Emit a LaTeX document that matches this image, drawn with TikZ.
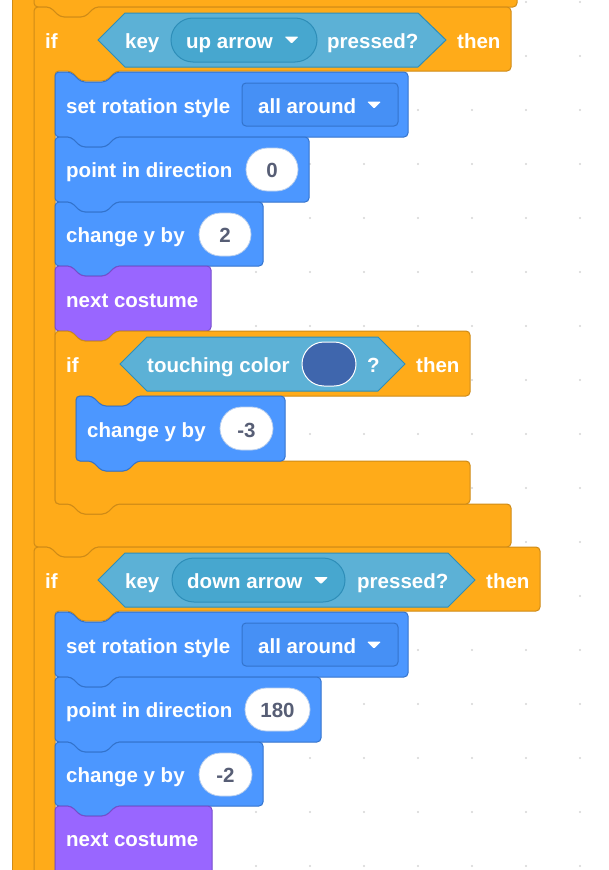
\documentclass[tikz,border=0pt]{standalone}
\usepackage{fontspec}
\setmainfont{Liberation Sans}
\definecolor{ctrl}{HTML}{FFAB19}
\definecolor{ctrlB}{HTML}{CF8B17}
\definecolor{mot}{HTML}{4C97FF}
\definecolor{motB}{HTML}{3373CC}
\definecolor{motD}{HTML}{4690F5}
\definecolor{look}{HTML}{9966FF}
\definecolor{lookB}{HTML}{774DCB}
\definecolor{sens}{HTML}{5CB1D6}
\definecolor{sensB}{HTML}{2E8EB8}
\definecolor{sensD}{HTML}{47A7CF}
\definecolor{numc}{HTML}{575E75}
\definecolor{swc}{HTML}{3F66AD}
\definecolor{dotc}{HTML}{D6D6D6}
% stack block: style, x1, y1, x2, y2
\newcommand\stk[5]{\path[#1] ({#2},{#3+20}) -- ({#2},{#3}) -- ({#2+16},{#3}) -- ({#2+26},{#3+10}) -- ({#2+51},{#3+10}) -- ({#2+61},{#3}) -- ({#4},{#3}) -- ({#4},{#5}) -- ({#2+61},{#5}) -- ({#2+51},{#5+10}) -- ({#2+26},{#5+10}) -- ({#2+16},{#5}) -- ({#2},{#5}) -- cycle;}
% c block: style, x1, y1, x2, yh, yb, x3, ye
\newcommand\cblk[8]{\path[#1] ({#2},{#3+20}) -- ({#2},{#3}) -- ({#2+16},{#3}) -- ({#2+26},{#3+10}) -- ({#2+51},{#3+10}) -- ({#2+61},{#3}) -- ({#4},{#3}) -- ({#4},{#5}) -- ({#2+82},{#5}) -- ({#2+72},{#5+10}) -- ({#2+47},{#5+10}) -- ({#2+37},{#5}) -- ({#2+21},{#5}) -- ({#2+21},{#6}) -- ({#2+37},{#6}) -- ({#2+47},{#6+10}) -- ({#2+72},{#6+10}) -- ({#2+82},{#6}) -- ({#7},{#6}) -- ({#7},{#8}) -- ({#2+61},{#8}) -- ({#2+51},{#8+10}) -- ({#2+26},{#8+10}) -- ({#2+16},{#8}) -- ({#2},{#8}) -- cycle;}
% dropdown triangle: x, y
\newcommand\ddtri[2]{\fill[white,rounded corners=1pt] ({#1-7},{#2-3.5}) -- ({#1+7},{#2-3.5}) -- ({#1},{#2+3.5}) -- cycle;}
\begin{document}
\begin{tikzpicture}[x=1pt,y=-1pt,
  ctrlS/.style={fill=ctrl,draw=ctrlB,line width=1pt,rounded corners=4pt},
  motS/.style={fill=mot,draw=motB,line width=1pt,rounded corners=4pt},
  lookS/.style={fill=look,draw=lookB,line width=1pt,rounded corners=4pt},
  sensS/.style={fill=sens,draw=sensB,line width=1pt},
  lbl/.style={text=white,font=\fontsize{20.5}{24}\selectfont\bfseries,inner sep=0pt,anchor=base west},
  num/.style={text=numc,font=\fontsize{20.5}{24}\selectfont\bfseries,inner sep=0pt,anchor=base},
  oval/.style={fill=white,draw=motB!35,line width=0.8pt},
  pillS/.style={fill=sensD,draw=sensB,line width=1pt,rounded corners=22pt},
  ddS/.style={fill=motD,draw=motB,line width=1pt,rounded corners=4pt}]
\useasboundingbox (0,0) rectangle (608,870);
\clip (0,0) rectangle (608,870);
\fill[white] (0,0) rectangle (608,870);
% grid dots
\foreach \i in {40,94,...,580} \foreach \j in {2,56,...,866} \fill[dotc] (\i,\j) circle (1.1pt);
% outer arm
\path[ctrlS,rounded corners=0pt] (12,-20) rectangle (44,890);
% top bar (end of block above)
\path[ctrlS] (34,-30) -- (517,-30) -- (517,7) -- (95,7) -- (85,17) -- (60,17) -- (50,7) -- (34,7) -- cycle;
% ---- if 1
\cblk{ctrlS}{34}{7}{511}{71}{504}{511}{547}
\path[sensS] (98,40) -- (125,13) -- (418,13) -- (446,40) -- (418,67) -- (125,67) -- cycle;
\path[pillS] (171,18) rectangle (317,62);
\ddtri{291.5}{40}
\node[lbl] (if1) at (45,48) {if};
\node[lbl] (key1) at (125,48) {key};
\node[lbl] (up) at (186,48) {up arrow};
\node[lbl] (pr1) at (327,48) {pressed?};
\node[lbl] (th1) at (457,48) {then};
% set rotation style 1
\stk{motS}{55}{72}{408}{137}
\path[ddS] (242,83) rectangle (398,126);
\ddtri{374}{105}
\node[lbl] (sr1) at (66,113) {set rotation style};
\node[lbl] (aa1) at (258,113) {all around};
% point in direction 1
\stk{motS}{55}{137}{309}{202}
\path[oval,rounded corners=21.5pt] (246,148) rectangle (298,191);
\node[lbl] (pd1) at (66,177.5) {point in direction};
\node[num] (n0) at (272,177.5) {0};
% change y by 1
\stk{motS}{55}{202}{263}{266}
\path[oval,rounded corners=21.5pt] (199,213) rectangle (251,256);
\node[lbl] (cy1) at (66,242.5) {change y by};
\node[num] (n2) at (225,242.5) {2};
% next costume 1
\stk{lookS}{55}{266}{211}{331}
\node[lbl] (nc1) at (66,307) {next costume};
% ---- nested if
\cblk{ctrlS}{55}{331}{470}{396}{461}{470}{504}
\path[sensS] (120,364) -- (147,337) -- (378,337) -- (405,364) -- (378,391) -- (147,391) -- cycle;
\path[fill=swc,draw=white,line width=1pt,rounded corners=22pt] (302,342) rectangle (356,386);
\node[lbl] (if2) at (66,372) {if};
\node[lbl] (tc) at (147,372) {touching color};
\node[lbl] (q) at (367,372) {?};
\node[lbl] (th2) at (416,372) {then};
% change y by -3
\stk{motS}{76}{396}{285}{461}
\path[oval,rounded corners=21.5pt] (220,407) rectangle (273,450);
\node[lbl] (cy3) at (87,437) {change y by};
\node[num] (nm3) at (246.5,437) {-3};
% ---- if 2
\cblk{ctrlS}{34}{547}{540}{611}{940}{540}{980}
\path[sensS] (98,580) -- (125,553) -- (448,553) -- (475,580) -- (448,607) -- (125,607) -- cycle;
\path[pillS] (172,558) rectangle (345,602);
\ddtri{321}{580.5}
\node[lbl] (if3) at (45,588) {if};
\node[lbl] (key2) at (125,588) {key};
\node[lbl] (dn) at (187,588) {down arrow};
\node[lbl] (pr2) at (357,588) {pressed?};
\node[lbl] (th3) at (486,588) {then};
% set rotation style 2
\stk{motS}{55}{612}{408}{677}
\path[ddS] (242,623) rectangle (398,666);
\ddtri{374}{645}
\node[lbl] (sr2) at (66,653) {set rotation style};
\node[lbl] (aa2) at (258,653) {all around};
% point in direction 2
\stk{motS}{55}{677}{321}{742}
\path[oval,rounded corners=21.5pt] (245,688) rectangle (310,731);
\node[lbl] (pd2) at (66,717.5) {point in direction};
\node[num] (n180) at (277.5,717.5) {180};
% change y by 2
\stk{motS}{55}{742}{263}{806}
\path[oval,rounded corners=21.5pt] (199,753) rectangle (252,796);
\node[lbl] (cy2) at (66,782.5) {change y by};
\node[num] (nm2) at (225.5,782.5) {-2};
% next costume 2
\stk{lookS}{55}{806}{212}{900}
\node[lbl] (nc2) at (66,846.5) {next costume};
\end{tikzpicture}
\end{document}
